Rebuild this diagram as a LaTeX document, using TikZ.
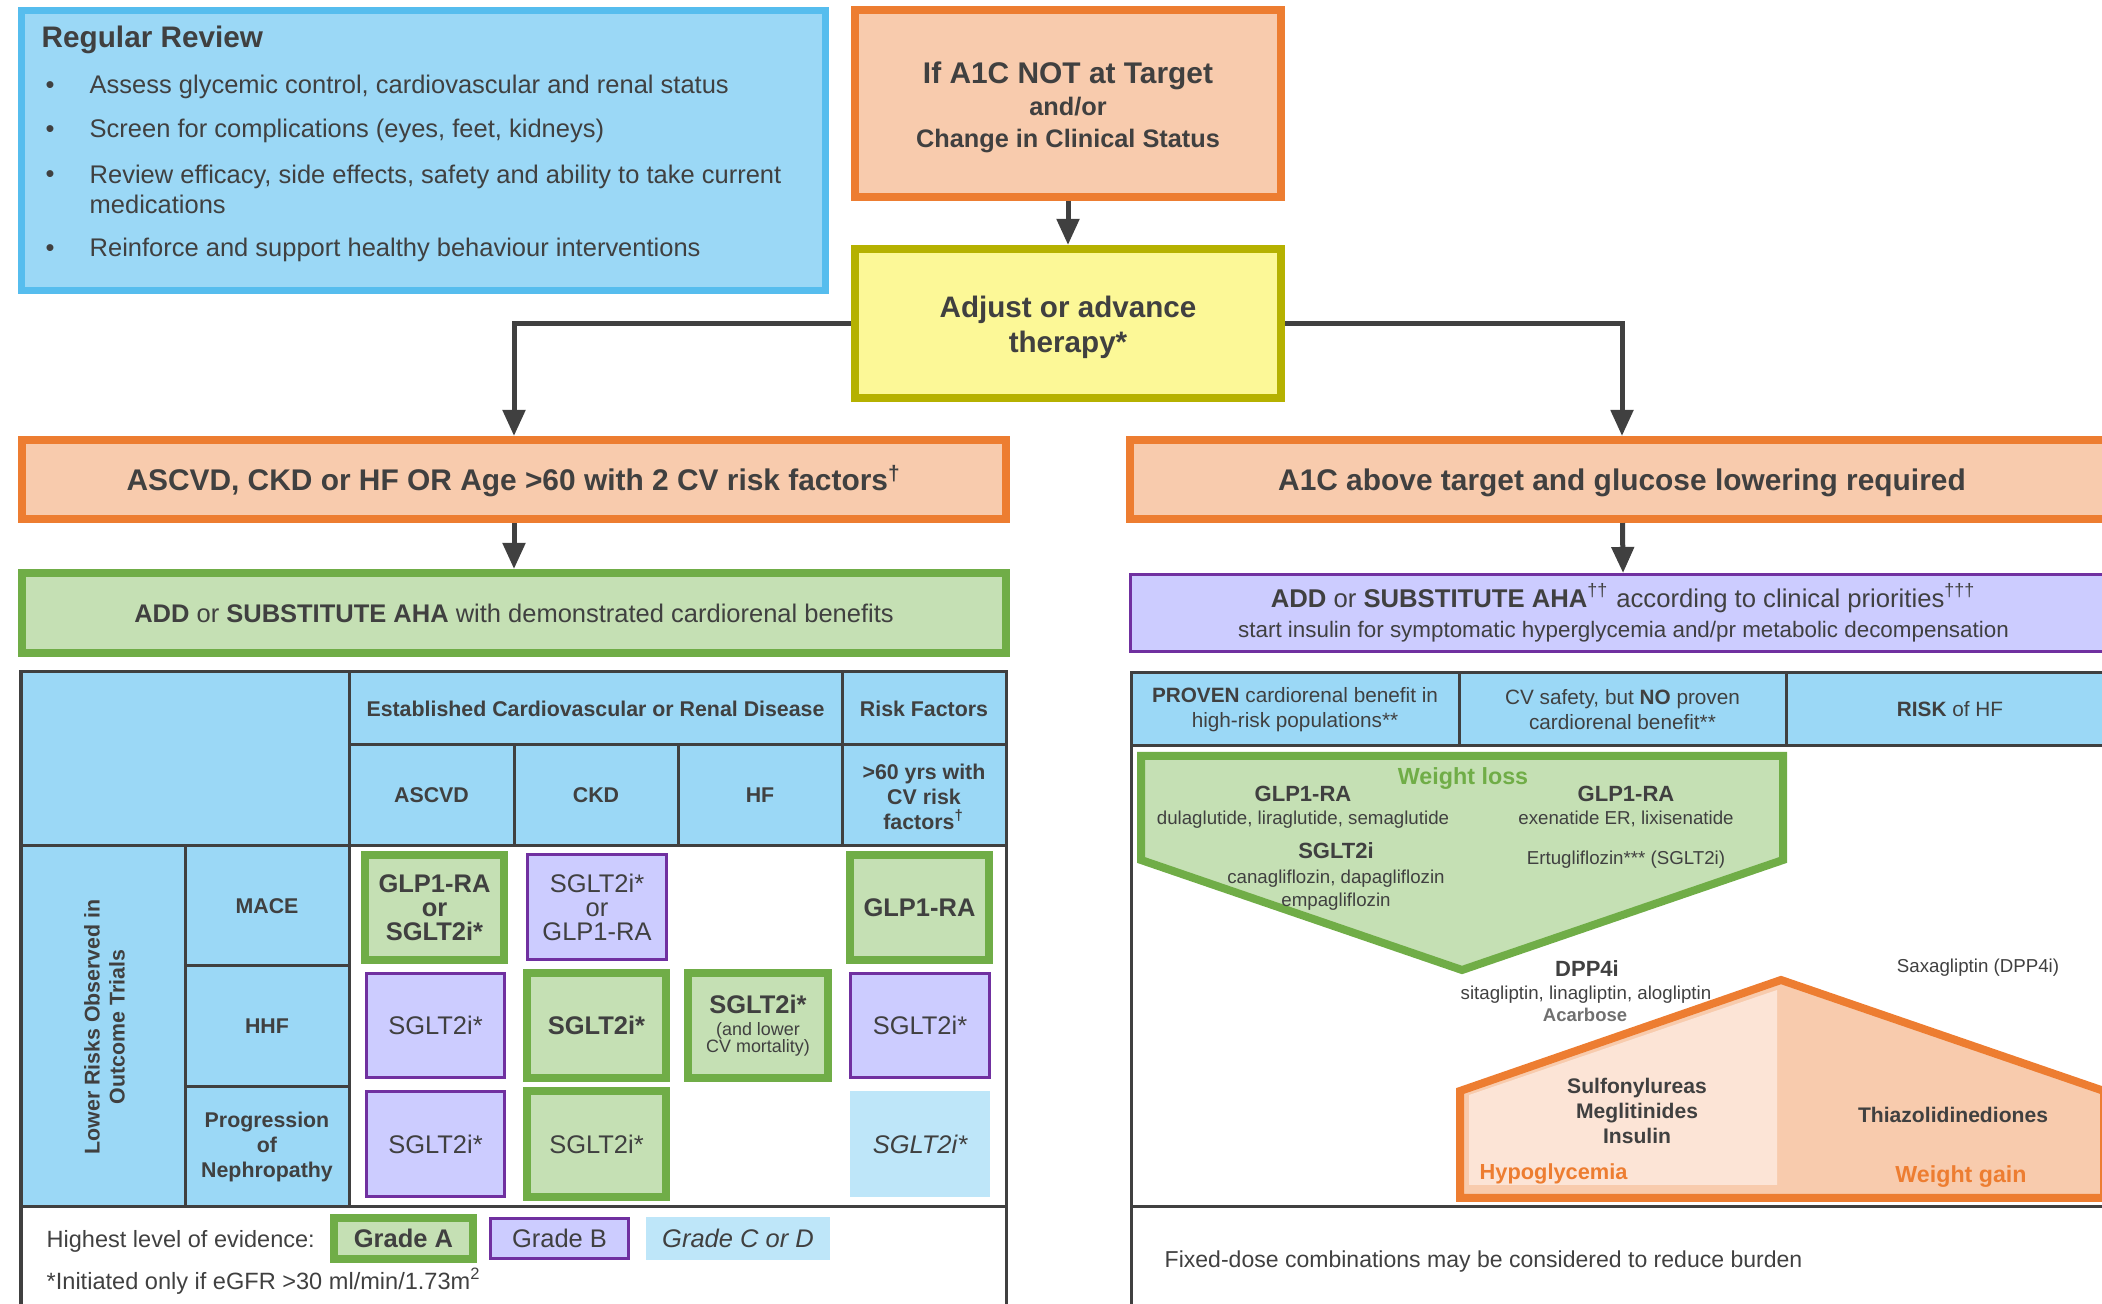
\documentclass[tikz,border=0pt]{standalone}
\usepackage{fontspec}
\setmainfont{Liberation Sans}
\usepackage{xcolor}
\definecolor{ink}{RGB}{64,64,64}
\definecolor{skyfill}{RGB}{155,216,246}
\definecolor{skyline}{RGB}{86,189,238}
\definecolor{pale}{RGB}{190,230,249}
\definecolor{orline}{RGB}{237,125,49}
\definecolor{orfill}{RGB}{248,203,173}
\definecolor{orlight}{RGB}{252,228,214}
\definecolor{yfill}{RGB}{252,248,151}
\definecolor{yline}{RGB}{181,177,0}
\definecolor{gline}{RGB}{112,173,71}
\definecolor{gfill}{RGB}{197,224,180}
\definecolor{pline}{RGB}{112,48,160}
\definecolor{pfill}{RGB}{204,204,255}
\usepackage{tikz}
\usetikzlibrary{arrows.meta,positioning}
\newcommand{\fsz}[2]{\fontsize{#1}{#2}\selectfont}

\begin{document}
\begin{tikzpicture}[
  x=0.01cm,y=-0.01cm,
  every node/.style={text=ink,inner sep=0pt},
  obox/.style={rectangle,draw=orline,fill=orfill,line width=0.08cm,align=center,font=\bfseries\fsz{8.5}{9.1}},
  ybox/.style={rectangle,draw=yline,fill=yfill,line width=0.08cm,align=center,font=\bfseries\fsz{8.42}{10.2}},
  gbox/.style={rectangle,draw=gline,fill=gfill,line width=0.08cm,align=center},
  pbox/.style={rectangle,draw=pline,fill=pfill,line width=0.03cm,align=center},
  cellbox/.style={align=center,font=\fsz{7.25}{6.85},minimum width=1.39cm,minimum height=1.05cm},
  gcell/.style={gbox,cellbox},
  pcell/.style={pbox,cellbox,minimum width=1.38cm,minimum height=1.04cm},
  ccell/.style={cellbox,fill=pale,minimum width=1.40cm,minimum height=1.06cm},
  hdr/.style={align=center,font=\bfseries\fsz{6.07}{7.1}},
  rhdr/.style={align=center,font=\fsz{5.9}{7.1}},
  gridline/.style={draw=ink,line width=0.03cm},
  drug/.style={anchor=base,font=\fsz{5.32}{6.5}},
  drugname/.style={anchor=base,font=\bfseries\fsz{6.26}{7}},
  arrow/.style={-{Triangle[width=0.22cm,length=0.26cm]},line width=0.05cm,draw=ink}
]
  \path[use as bounding box,clip] (0,0) rectangle (2102,1304);

  % Review box
  \node[rectangle,draw=skyline,fill=skyfill,line width=0.07cm,minimum width=8.04cm,minimum height=2.80cm] (review) at (423.5,150.5) {};
  \node[anchor=base west,font=\bfseries\fsz{8.45}{10}] (revhead) at (41,48) {Regular Review};
  \foreach \i/\yb in {1/94,2/138,3/183,4/257}
    \node[anchor=base west,font=\fsz{7.25}{8.5}] (dot\i) at (45,\yb) {•};
  \node[anchor=base west,font=\fsz{7.25}{8.5}] (rev1) at (89,94) {Assess glycemic control, cardiovascular and renal status};
  \node[anchor=base west,font=\fsz{7.25}{8.5}] (rev2) at (89,138) {Screen for complications (eyes, feet, kidneys)};
  \node[anchor=west,align=left,font=\fsz{7.25}{8.54}] (rev3) at (89,189) {Review efficacy, side effects, safety and ability to take current\\medications};
  \node[anchor=base west,font=\fsz{7.25}{8.5}] (rev4) at (89,257) {Reinforce and support healthy behaviour interventions};

  % Decision boxes
  \node[obox,minimum width=4.26cm,minimum height=1.87cm] (target) at (1068,103.5)
    {\rule{0pt}{8.5pt}If A1C NOT at Target\\{\fsz{7.2}{9.1}and/or}\\{\fsz{7.2}{9.1}Change in Clinical Status}};
  \node[ybox,minimum width=4.26cm,minimum height=1.49cm] (adjust) at (1068,323.5) {\rule{0pt}{8.3pt}Adjust or advance\\therapy*};
  \node[obox,minimum width=9.84cm,minimum height=0.79cm,text height=6.1pt,text depth=0pt] (cvd) at (514,479.5)
    {ASCVD, CKD or HF OR Age >60 with 2 CV risk factors\textsuperscript{†}};
  \node[gbox,minimum width=9.84cm,minimum height=0.80cm,font=\fsz{7.25}{8.5}] (cardio) at (514,613)
    {\textbf{ADD} or \textbf{SUBSTITUTE AHA} with demonstrated cardiorenal benefits};
  \node[obox,minimum width=9.84cm,minimum height=0.79cm,text height=6.1pt,text depth=0pt] (glucose) at (1622,479.5)
    {A1C above target and glucose lowering required};
  \node[pbox,minimum width=9.86cm,minimum height=0.77cm,font=\fsz{7.3}{8.5}] (addaha) at (1623.5,613)
    {\textbf{ADD} or \textbf{SUBSTITUTE AHA}\textsuperscript{††} according to clinical priorities\textsuperscript{†††}\\{\fsz{6.37}{8.5}start insulin for symptomatic hyperglycemia and/pr metabolic decompensation}};

  % Arrows
  \draw[arrow] (target) -- (adjust);
  \draw[arrow] (adjust.west) -| (cvd.north);
  \draw[arrow] (adjust.east) -| (glucose.north);
  \draw[arrow] (cvd) -- (cardio);
  \draw[arrow] (glucose) -- (addaha);

  % Left table
  \fill[skyfill] (21,672) rectangle (1006,846);
  \fill[skyfill] (21,846) rectangle (349,1207);
  \draw[gridline] (21,1310) -- (21,672) -- (1006,672) -- (1006,1310);
  \draw[gridline] (349,745) -- (1006,745);
  \draw[gridline] (21,846) -- (1006,846);
  \draw[gridline] (21,1207) -- (1006,1207);
  \draw[gridline] (349,672) -- (349,1207);
  \draw[gridline] (185,846) -- (185,1207);
  \foreach \x in {514,678} \draw[gridline] (\x,745) -- (\x,846);
  \draw[gridline] (842,672) -- (842,846);
  \foreach \y in {966,1087} \draw[gridline] (185,\y) -- (349,\y);

  \node[hdr] (est) at (595.5,708.5) {Established Cardiovascular or Renal Disease};
  \node[hdr] (riskf) at (924,708.5) {Risk Factors};
  \node[hdr] (colascvd) at (431.5,795.5) {ASCVD};
  \node[hdr] (colckd) at (596,795.5) {CKD};
  \node[hdr] (colhf) at (760,795.5) {HF};
  \node[hdr] (colage) at (924,797) {>60 yrs with\\CV risk\\factors\textsuperscript{†}};
  \node[hdr] (rowmace) at (267,906) {MACE};
  \node[hdr] (rowhhf) at (267,1026.5) {HHF};
  \node[hdr] (rowneph) at (267,1147) {Progression\\of\\Nephropathy};
  \node[hdr,rotate=90] (lower) at (104.5,1027) {Lower Risks Observed in\\Outcome Trials};

  % Evidence cells
  \node[gcell,font=\bfseries\fsz{7.25}{6.85}] (c11) at (434.5,907.5) {GLP1-RA\\or\\SGLT2i*};
  \node[pcell] (c12) at (597,907) {SGLT2i*\\or\\GLP1-RA};
  \node[gcell,font=\bfseries\fsz{7.25}{6.85}] (c14) at (919.5,907.5) {GLP1-RA};
  \node[pcell] (c21) at (435.5,1025.5) {SGLT2i*};
  \node[gcell,font=\bfseries\fsz{7.25}{6.85}] (c22) at (596.5,1025.5) {SGLT2i*};
  \node[gcell] (c23) at (758,1025.5) {\textbf{SGLT2i*}\\[-0.6pt]{\fsz{5.1}{5.6}(and lower}\\[-2pt]{\fsz{5.1}{5.6}CV mortality)}};
  \node[pcell] (c24) at (920,1025.5) {SGLT2i*};
  \node[pcell] (c31) at (435.5,1144) {SGLT2i*};
  \node[gcell] (c32) at (596.5,1144) {SGLT2i*};
  \node[ccell,font=\itshape\fsz{7.25}{6.85}] (c34) at (920,1144) {SGLT2i*};

  % Legend
  \node[anchor=base west,font=\fsz{6.69}{8}] (evid) at (46,1248) {Highest level of evidence:};
  \node[gbox,minimum width=1.39cm,minimum height=0.41cm,font=\bfseries\fsz{7.25}{8}] (gradea) at (403.5,1238.5) {Grade A};
  \node[pbox,minimum width=1.38cm,minimum height=0.40cm,font=\fsz{7.25}{8}] (gradeb) at (559.5,1238.5) {Grade B};
  \node[fill=pale,minimum width=1.84cm,minimum height=0.43cm,font=\itshape\fsz{7.25}{8}] (gradec) at (738,1238.5) {Grade C or D};
  \node[anchor=base west,font=\fsz{6.7}{8}] (egfr) at (46,1290) {*Initiated only if eGFR >30 ml/min/1.73m\textsuperscript{2}};

  % Right table
  \fill[skyfill] (1131,673) rectangle (2120,746);
  \draw[gridline] (1131,1310) -- (1131,673) -- (2120,673);
  \draw[gridline] (1131,746) -- (2120,746);
  \draw[gridline] (1131,1207) -- (2120,1207);
  \foreach \x in {1459,1786} \draw[gridline] (\x,673) -- (\x,746);
  \node[rhdr] (proven) at (1295,709.5) {\textbf{PROVEN} cardiorenal benefit in\\high-risk populations**};
  \node[rhdr] (safety) at (1622.5,709.5) {CV safety, but \textbf{NO} proven\\cardiorenal benefit**};
  \node[rhdr] (riskhf) at (1950,709.5) {\textbf{RISK} of HF};

  % Weight loss and weight gain shapes
  \draw[draw=gline,fill=gfill,line width=0.08cm] (1141,756) -- (1783,756) -- (1783,860) -- (1462,970) -- (1141,860) -- cycle;
  \draw[draw=orline,fill=orfill,line width=0.08cm] (1460,1198) -- (1460,1091) -- (1781,980) -- (2104,1091) -- (2104,1198) -- cycle;
  \fill[orlight] (1469,1185) -- (1469,1095) -- (1777,990) -- (1777,1185) -- cycle;

  \node[anchor=base,font=\bfseries\fsz{6.63}{8},text=gline] (wloss) at (1463,785) {Weight loss};
  \node[drugname] (glp1a) at (1303,802) {GLP1-RA};
  \node[drug] (glp1alist) at (1303,825) {dulaglutide, liraglutide, semaglutide};
  \node[drugname] (sglt2) at (1336,859) {SGLT2i};
  \node[drug,anchor=north,align=center,font=\fsz{5.32}{6.54}] (sglt2list) at (1336,869.5) {canagliflozin, dapagliflozin\\empagliflozin};
  \node[drugname] (glp1b) at (1626,802) {GLP1-RA};
  \node[drug] (glp1blist) at (1626,825) {exenatide ER, lixisenatide};
  \node[drug] (ertu) at (1626,865) {Ertugliflozin*** (SGLT2i)};
  \node[drugname] (dpp4) at (1587,977) {DPP4i};
  \node[drug] (dpp4list) at (1586,1000) {sitagliptin, linagliptin, alogliptin};
  \node[drug,font=\bfseries\fsz{5.25}{6.5},text=ink!75] (acarb) at (1585,1022) {Acarbose};
  \node[drug] (saxa) at (1978,973) {Saxagliptin (DPP4i)};

  \node[anchor=north,align=center,font=\bfseries\fsz{6.0}{7.1}] (hypo) at (1637,1078) {Sulfonylureas\\Meglitinides\\Insulin};
  \node[anchor=base,font=\bfseries\fsz{6.0}{7}] (tzd) at (1953,1123) {Thiazolidinediones};
  \node[anchor=base west,font=\bfseries\fsz{6.2}{7},text=orline] (hypolab) at (1479,1180) {Hypoglycemia};
  \node[anchor=base,font=\bfseries\fsz{6.6}{7},text=orline] (gainlab) at (1961,1183) {Weight gain};
  \node[anchor=base west,font=\fsz{6.55}{8}] (fdc) at (1164,1268) {Fixed-dose combinations may be considered to reduce burden};
\end{tikzpicture}
\end{document}
